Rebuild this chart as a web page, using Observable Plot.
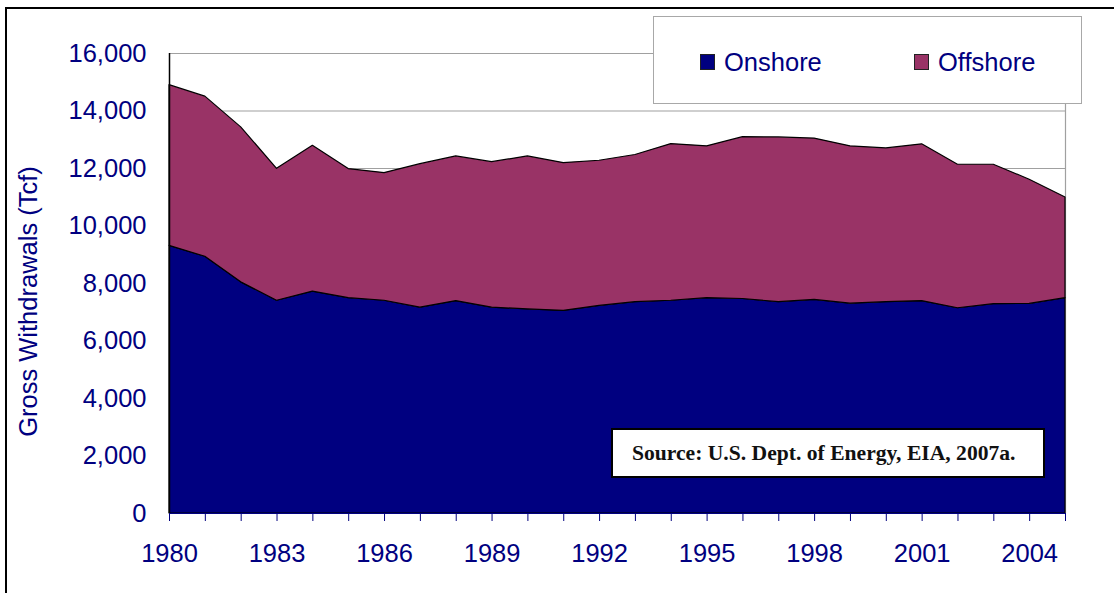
<!DOCTYPE html>
<html>
<head>
<meta charset="utf-8">
<script src="https://cdn.jsdelivr.net/npm/d3@7"></script>
<script src="https://cdn.jsdelivr.net/npm/@observablehq/plot@0.6"></script>
<style>
  html, body { margin: 0; padding: 0; background: #fff; }
  #wrap { position: relative; width: 1114px; height: 593px; overflow: hidden; font-family: "Liberation Sans", Arial, sans-serif; }
  #wrap svg { position: absolute; left: 0; top: 0; }
  .frame { position: absolute; left: 5px; top: 7px; right: -10px; bottom: -10px; border-left: 2px solid #000; border-top: 2px solid #000; pointer-events: none; }
  .legend { position: absolute; left: 653px; top: 16px; width: 429px; height: 88px; background: #fff; border: 1.5px solid #a8a8a8; box-sizing: border-box; }
  .legend .item { position: absolute; top: 30px; font-size: 25.5px; color: #000080; line-height: 30px; white-space: nowrap; }
  .legend .sw { position: absolute; top: 37px; width: 15px; height: 16px; border: 1px solid #222; box-sizing: border-box; }
  .source { position: absolute; left: 611px; top: 428px; width: 434px; height: 50px; background: #fff; border: 2px solid #000; box-sizing: border-box; font-family: "Liberation Serif", "Times New Roman", serif; font-weight: bold; font-size: 21.6px; color: #111; line-height: 46px; padding-left: 19px; white-space: nowrap; }
</style>
</head>
<body>
<div id="wrap"></div>
<script>
const years = [1980,1981,1982,1983,1984,1985,1986,1987,1988,1989,1990,1991,1992,1993,1994,1995,1996,1997,1998,1999,2000,2001,2002,2003,2004,2005];
const onshore = [9310,8930,8040,7400,7720,7490,7400,7160,7390,7160,7100,7050,7220,7350,7400,7490,7460,7350,7430,7300,7350,7390,7140,7280,7290,7490];
const offshore = [5590,5570,5390,4590,5070,4490,4440,4990,5030,5060,5320,5140,5050,5120,5450,5280,5630,5730,5610,5470,5350,5450,4990,4850,4320,3500];
const seriesNames = ["Onshore", "Offshore"];
const seriesColors = ["#000080", "#993366"];
const yTicks = [0,2000,4000,6000,8000,10000,12000,14000,16000];
const xLabelYears = [1980,1983,1986,1989,1992,1995,1998,2001,2004];
const yTitle = "Gross Withdrawals (Tcf)";
const sourceText = "Source: U.S. Dept. of Energy, EIA, 2007a.";

const data = [];
years.forEach((yr, i) => {
  data.push({year: yr, series: seriesNames[0], value: onshore[i]});
  data.push({year: yr, series: seriesNames[1], value: offshore[i]});
});

const navy = "#000080";
const chart = Plot.plot({
  width: 1114,
  height: 593,
  marginLeft: 169,
  marginRight: 49,
  marginTop: 53,
  marginBottom: 80,
  style: {fontFamily: "'Liberation Sans', Arial, sans-serif", fontSize: "25.5px", color: navy, background: "transparent", overflow: "visible"},
  x: {type: "linear", domain: [1980, 2005]},
  y: {domain: [0, 16000]},
  color: {domain: seriesNames, range: seriesColors},
  marks: [
    Plot.gridY(yTicks, {stroke: "#a0a0a0", strokeOpacity: 1, strokeWidth: 1.2}),
    Plot.ruleX([2005], {stroke: "#a0a0a0", strokeWidth: 1.2}),
    Plot.areaY(data, Plot.stackY({x: "year", y: "value", fill: "series", order: seriesNames, stroke: "#000", strokeWidth: 1.2, strokeLinejoin: "round"})),
    Plot.ruleY([0], {stroke: navy, strokeWidth: 1}),
    Plot.ruleX([1980], {stroke: "#000", strokeWidth: 1.5}),
    Plot.axisY({ticks: yTicks, tickSize: 0, tickPadding: 23, tickFormat: d3.format(","), fill: navy, fontSize: 25.5, label: null}),
    Plot.axisX({ticks: years, tickSize: 8, tickPadding: 22, stroke: navy, fill: navy, fontSize: 25.5,
      tickFormat: d => xLabelYears.includes(d) ? String(d) : "", label: null}),
    Plot.text([yTitle], {frameAnchor: "left", textAnchor: "middle", lineAnchor: "middle", rotate: -90, dx: -141, dy: 18, fill: navy, fontSize: 25.5})
  ]
});

const wrap = document.getElementById("wrap");
wrap.appendChild(chart);

const frame = document.createElement("div");
frame.className = "frame";
wrap.appendChild(frame);

const legend = document.createElement("div");
legend.className = "legend";
const swLeft = [46, 260];
const txtLeft = [70, 284];
seriesNames.forEach((name, i) => {
  const sw = document.createElement("div");
  sw.className = "sw";
  sw.style.left = swLeft[i] + "px";
  sw.style.background = seriesColors[i];
  legend.appendChild(sw);
  const t = document.createElement("div");
  t.className = "item";
  t.style.left = txtLeft[i] + "px";
  t.textContent = name;
  legend.appendChild(t);
});
wrap.appendChild(legend);

const src = document.createElement("div");
src.className = "source";
src.textContent = sourceText;
wrap.appendChild(src);
</script>
</body>
</html>
